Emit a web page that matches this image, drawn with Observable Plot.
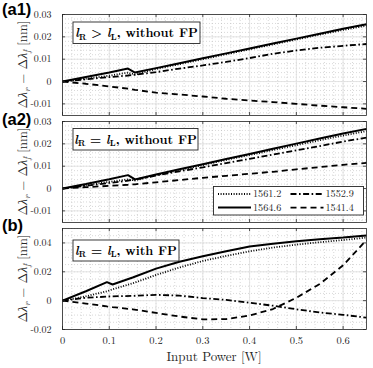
<!DOCTYPE html>
<html><head><meta charset="utf-8">
<script src="https://cdn.jsdelivr.net/npm/d3@7"></script>
<script src="https://cdn.jsdelivr.net/npm/@observablehq/plot@0.6"></script>
<style>
body{margin:0;background:#fff;}
#wrap{position:relative;width:373px;height:368px;overflow:hidden;background:#fff;}
#wrap svg.p{position:absolute;left:0;}
#ov{position:absolute;left:0;top:0;pointer-events:none;}
</style></head><body>
<div id="wrap"></div>
<script>
// ---------- data ----------
const seriesNames = ["1561.2", "1552.9", "1564.6", "1541.4"];
const seriesDash  = ["1,1.6", "6,2.5,1.6,2.5", null, "6,4"];

const xA = [0, 0.05, 0.1, 0.14, 0.155, 0.2, 0.25, 0.3, 0.35, 0.4, 0.45, 0.5, 0.55, 0.6, 0.65];
const a1_1561 = [0, 0.0013, 0.0026, 0.0040, 0.0031, 0.0056, 0.0078, 0.0100, 0.0122, 0.0144, 0.0166, 0.0188, 0.0210, 0.0231, 0.0250];
const a1_1552 = [0, 0.0010, 0.0020, 0.0027, 0.0031, 0.0042, 0.0058, 0.0072, 0.0088, 0.0105, 0.0124, 0.0139, 0.0151, 0.0160, 0.0168];
const a1_1564 = [0, 0.0020, 0.0040, 0.0058, 0.0040, 0.0060, 0.0082, 0.0104, 0.0126, 0.0148, 0.0170, 0.0192, 0.0214, 0.0236, 0.0256];
const a1_1541 = [0, -0.0010, -0.0022, -0.0032, -0.0037, -0.0050, -0.0058, -0.0067, -0.0077, -0.0085, -0.0092, -0.0100, -0.0108, -0.0115, -0.0122];

const a2_1561 = [0, 0.0015, 0.0030, 0.0041, 0.0036, 0.0060, 0.0082, 0.0105, 0.0128, 0.0150, 0.0172, 0.0194, 0.0216, 0.0237, 0.0257];
const a2_1552 = [0, 0.0012, 0.0025, 0.0035, 0.0040, 0.0058, 0.0077, 0.0095, 0.0114, 0.0133, 0.0152, 0.0171, 0.0190, 0.0210, 0.0228];
const a2_1564 = [0, 0.0020, 0.0042, 0.0060, 0.0041, 0.0063, 0.0086, 0.0109, 0.0132, 0.0155, 0.0178, 0.0201, 0.0224, 0.0246, 0.0267];
const a2_1541 = [0, 0.0006, 0.0012, 0.0017, 0.0019, 0.0028, 0.0038, 0.0048, 0.0057, 0.0066, 0.0075, 0.0086, 0.0096, 0.0106, 0.0115];

const xB = [0, 0.05, 0.095, 0.107, 0.15, 0.2, 0.25, 0.3, 0.35, 0.4, 0.45, 0.5, 0.55, 0.6, 0.65];
const b_1561 = [0, 0.0030, 0.0065, 0.0078, 0.0120, 0.0178, 0.0230, 0.0275, 0.0310, 0.0342, 0.0368, 0.0388, 0.0405, 0.0420, 0.0437];
const b_1552 = [0, 0.0020, 0.0028, 0.0030, 0.0033, 0.0040, 0.0035, 0.0018, 0.0005, -0.0015, -0.0035, -0.0060, -0.0082, -0.0098, -0.0118];
const b_1564 = [0, 0.0065, 0.0128, 0.0112, 0.0160, 0.0222, 0.0270, 0.0308, 0.0342, 0.0375, 0.0395, 0.0412, 0.0425, 0.0437, 0.0452];
const b_1541 = [0, -0.0020, -0.0040, -0.0045, -0.0060, -0.0085, -0.0110, -0.0130, -0.0128, -0.0103, -0.0058, 0.0020, 0.0115, 0.0245, 0.0420];

const xTicks = [0, 0.1, 0.2, 0.3, 0.4, 0.5, 0.6];
const xTickLabels = ["0", "0.1", "0.2", "0.3", "0.4", "0.5", "0.6"];
const xMinor = d3.range(0, 0.651, 0.02);
const yTicksA = [-0.01, 0, 0.01, 0.02, 0.03];
const yTickLabelsA = ["-0.01", "0", "0.01", "0.02", "0.03"];
const yMinorA = d3.range(-0.014, 0.0301, 0.002);
const yTicksB = [-0.02, 0, 0.02, 0.04];
const yTickLabelsB = ["-0.02", "0", "0.02", "0.04"];
const yMinorB = d3.range(-0.02, 0.0501, 0.005);
const xLabel = "Input Power [W]";

// ---------- panels ----------
const SERIF = "'Latin Modern Roman', 'Liberation Serif', serif";
const FW = 304, FH = 101;
const ink = "#262626";
function panel(xs, ys, yDomain, yTicks, yLabels, yMinor, showX, top, height, mb) {
  const lines = ys.map((arr, k) => Plot.line(xs.map((x, i) => ({x, y: arr[i]})), {
    x: "x", y: "y", stroke: "#000", strokeWidth: k === 2 ? 2 : 1.8,
    strokeDasharray: seriesDash[k], strokeLinecap: "butt", strokeLinejoin: "miter"
  }));
  const svg = Plot.plot({
    width: 373, height, marginLeft: 62, marginRight: 7, marginTop: 14, marginBottom: mb,
    style: {background: "transparent", overflow: "visible", fontFamily: SERIF, fontSize: "10px", color: ink},
    x: {domain: [0, 0.65]},
    y: {domain: yDomain},
    marks: [
      Plot.ruleX(xMinor, {stroke: "#bdbdbd", strokeWidth: 0.6, strokeDasharray: "1,2"}),
      Plot.ruleY(yMinor, {stroke: "#bdbdbd", strokeWidth: 0.6, strokeDasharray: "1,2"}),
      Plot.ruleX(xTicks, {stroke: "#e1e1e1", strokeWidth: 0.9}),
      Plot.ruleY(yTicks, {stroke: "#e1e1e1", strokeWidth: 0.9}),
      ...lines,
      Plot.frame({stroke: ink, strokeWidth: 0.8}),
      Plot.tickX(xTicks, {stroke: ink, strokeWidth: 0.8, insetTop: FH - 3}),
      Plot.tickX(xTicks, {stroke: ink, strokeWidth: 0.8, insetBottom: FH - 3}),
      Plot.tickY(yTicks, {stroke: ink, strokeWidth: 0.8, insetRight: FW - 3}),
      Plot.tickY(yTicks, {stroke: ink, strokeWidth: 0.8, insetLeft: FW - 3}),
      Plot.axisY({ticks: yTicks, tickSize: 0, tickPadding: 11, label: null, fontFamily: SERIF, fontSize: 10,
        tickFormat: d => yLabels[yTicks.indexOf(d)]}),
      showX ? Plot.axisX({ticks: xTicks, tickSize: 0, tickPadding: 7, label: null, fontFamily: SERIF, fontSize: 10.5,
        tickFormat: d => xTickLabels[xTicks.indexOf(d)]}) : Plot.axisX({ticks: [], label: null})
    ]
  });
  svg.classList.add("p");
  svg.style.top = top + "px";
  document.getElementById("wrap").appendChild(svg);
}
panel(xA, [a1_1561, a1_1552, a1_1564, a1_1541], [-0.0152, 0.03], yTicksA, yTickLabelsA, yMinorA, false, 0, 122, 7);
panel(xA, [a2_1561, a2_1552, a2_1564, a2_1541], [-0.0152, 0.03], yTicksA, yTickLabelsA, yMinorA, false, 107, 122, 7);
panel(xB, [b_1561, b_1552, b_1564, b_1541], [-0.02, 0.05], yTicksB, yTickLabelsB, yMinorB, true, 214, 154, 39);

// ---------- overlay: labels, annotations, legend ----------
const ov = d3.select("#wrap").append("svg").attr("id", "ov").attr("width", 373).attr("height", 368);

// panel tags
[["(a1)", 15], ["(a2)", 125], ["(b)", 231]].forEach(([t, y]) =>
  ov.append("text").attr("x", 2).attr("y", y).attr("font-family", "'Liberation Sans', Arial, sans-serif")
    .attr("font-weight", "bold").attr("font-size", 16.5).attr("fill", "#000").text(t));

// y labels
[64.5, 171.5, 278.5].forEach(cy => {
  const t = ov.append("text").attr("transform", `translate(27,${cy}) rotate(-90)`)
    .attr("text-anchor", "middle").attr("font-family", SERIF).attr("font-size", 13).attr("fill", ink);
  t.append("tspan").text("Δ");
  t.append("tspan").attr("font-style", "italic").text("λ");
  t.append("tspan").attr("font-style", "italic").attr("font-size", 9).attr("dy", 3).text("r");
  t.append("tspan").attr("dy", -3).text(" − Δ");
  t.append("tspan").attr("font-style", "italic").text("λ");
  t.append("tspan").attr("font-style", "italic").attr("font-size", 9).attr("dy", 3).text("f");
  t.append("tspan").attr("dy", -3).text(" [nm]");
});

// x label
ov.append("text").attr("x", 214).attr("y", 361).attr("text-anchor", "middle")
  .attr("font-family", SERIF).attr("font-size", 13).attr("fill", ink).text(xLabel);

// annotation boxes
const notes = [
  {x: 73, y: 22, w: 127, h: 21.5, rel: ">", tail: ", without FP"},
  {x: 73, y: 128.5, w: 125, h: 21.5, rel: "=", tail: ", without FP"},
  {x: 73, y: 240, w: 106, h: 21, rel: "=", tail: ", with FP"}
];
notes.forEach(n => {
  ov.append("rect").attr("x", n.x).attr("y", n.y).attr("width", n.w).attr("height", n.h)
    .attr("fill", "#fff").attr("stroke", ink).attr("stroke-width", 0.9);
  const t = ov.append("text").attr("x", n.x + n.w / 2).attr("y", n.y + n.h / 2 + 4.3)
    .attr("text-anchor", "middle").attr("font-family", SERIF).attr("font-weight", "bold")
    .attr("font-size", 12.5).attr("fill", "#000");
  t.append("tspan").attr("font-style", "italic").text("l");
  t.append("tspan").attr("font-size", 8.5).attr("dy", 2.5).text("R");
  t.append("tspan").attr("dy", -2.5).text(" " + n.rel + " ");
  t.append("tspan").attr("font-style", "italic").text("l");
  t.append("tspan").attr("font-size", 8.5).attr("dy", 2.5).text("L");
  t.append("tspan").attr("dy", -2.5).text(n.tail);
});

// legend
ov.append("rect").attr("x", 213.5).attr("y", 186.5).attr("width", 150).attr("height", 28.5)
  .attr("fill", "#fff").attr("stroke", ink).attr("stroke-width", 0.9);
const legPos = [[218, 194], [290.5, 194], [218, 207.6], [290.5, 207.6]];
seriesNames.forEach((name, k) => {
  const [lx, ly] = legPos[k];
  ov.append("line").attr("x1", lx).attr("x2", lx + 33).attr("y1", ly).attr("y2", ly)
    .attr("stroke", "#000").attr("stroke-width", k === 2 ? 2 : 1.8)
    .attr("stroke-dasharray", seriesDash[k]);
  ov.append("text").attr("x", lx + 35).attr("y", ly + 3.4).attr("font-family", SERIF)
    .attr("font-size", 10.2).attr("fill", ink).text(name);
});
</script>
</body></html>
